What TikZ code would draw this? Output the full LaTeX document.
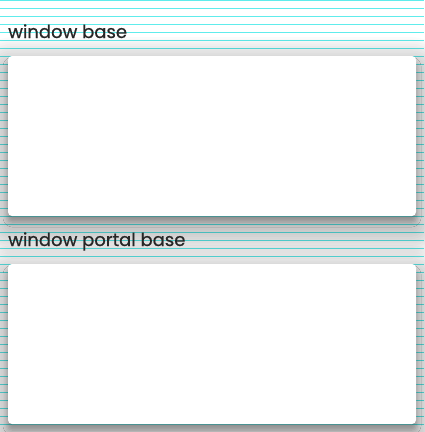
\documentclass[tikz,border=0pt]{standalone}
\usepackage{fontspec}
\newfontfamily\capfont{Poppins}[FakeBold=0.6]
\usetikzlibrary{shadows.blur,calc}

\definecolor{rule}{RGB}{96,236,236}

\tikzset{
  card/.style={fill=white, rounded corners=4pt, inner sep=0pt, outer sep=0pt,
    anchor=north west, minimum width=408pt, minimum height=160pt,
    blur shadow={shadow xshift=0pt, shadow yshift=-6pt,
      shadow blur radius=5pt, shadow opacity=28}},
  caption/.style={anchor=base west, inner sep=0pt, text=black!85,
    font=\capfont\fontsize{18}{21}\selectfont},
  halo/.style={fill=black, opacity=0.014},
}

% soft halo round a card, built from stacked translucent boxes
\newcommand{\cardhalo}[2]{%
  \foreach \i in {1,...,14}
    \fill[halo, rounded corners={4pt+2.2pt*\i}]
      ($(#1)+(-2.2*\i,-2.2*\i+12)$) rectangle ($(#2)+(2.2*\i,2.2*\i+12)$);
}

\begin{document}
\begin{tikzpicture}[x=1pt, y=-1pt]

  \useasboundingbox (0,0) rectangle (424,432);

  % Ruled paper
  \def\gap{8}
  \fill[white] (0,0) rectangle (424,432);
  \foreach \k in {0,...,54}
    \draw[rule, line width=1pt] (0,{\gap*\k+0.5}) -- (424,{\gap*\k+0.5});

  % Card corners
  \coordinate (baseTL) at (8,56);
  \coordinate (baseBR) at (416,216);
  \coordinate (portalTL) at (8,264);
  \coordinate (portalBR) at (416,424);

  % Shadows
  \cardhalo{baseTL}{baseBR}
  \cardhalo{portalTL}{portalBR}

  % Cards
  \node[card] (base) at (baseTL) {};
  \node[card] (portal) at (portalTL) {};

  % Labels
  \node[caption] (baselabel) at (8,38) {window base};
  \node[caption] (portallabel) at (8,246) {window portal base};

\end{tikzpicture}
\end{document}
